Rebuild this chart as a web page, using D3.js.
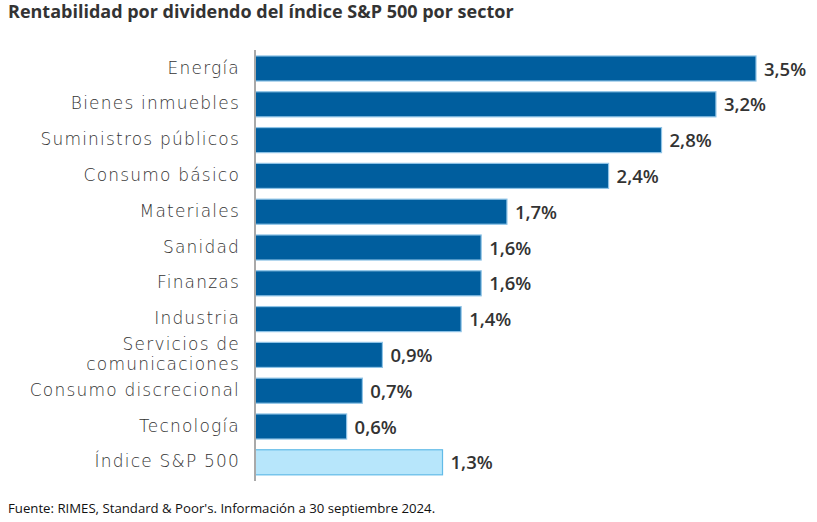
<!DOCTYPE html>
<html><head><meta charset="utf-8">
<script src="https://cdn.jsdelivr.net/npm/d3@7"></script>
<style>
body{margin:0;background:#fff;}
svg{display:block;}
</style></head><body>
<svg id="chart" width="817" height="522"></svg>
<script>
const categories = ["Energía","Bienes inmuebles","Suministros públicos","Consumo básico","Materiales","Sanidad","Finanzas","Industria","Servicios de\ncomunicaciones","Consumo discrecional","Tecnología","Índice S&P 500"];
const values = [3.5,3.22,2.84,2.47,1.76,1.58,1.58,1.44,0.89,0.75,0.64,1.31];
const valueLabels = ["3,5%","3,2%","2,8%","2,4%","1,7%","1,6%","1,6%","1,4%","0,9%","0,7%","0,6%","1,3%"];
const highlight = "Índice S&P 500";

const svg = d3.select("#chart");
const x = d3.scaleLinear().domain([0,3.5]).range([255,756]);
const y = d3.scaleBand().domain(categories).range([50.6,480.2]).paddingInner(0.3).paddingOuter(0.15);

svg.append("text").attr("x",8).attr("y",18)
  .attr("font-family","'Open Sans', sans-serif").attr("font-weight",700)
  .attr("font-size",18).attr("fill","#333")
  .text("Rentabilidad por dividendo del índice S&P 500 por sector");

svg.selectAll("rect.bar").data(categories).join("rect")
  .attr("class","bar")
  .attr("x",x(0)).attr("y",d=>y(d))
  .attr("width",(d,i)=>x(values[i])-x(0))
  .attr("height",y.bandwidth())
  .attr("fill",d=>d===highlight?"#b7e6fb":"#005e9e")
  .attr("stroke",d=>d===highlight?"#62bbe8":"#8ec3e6")
  .attr("stroke-width",1.2);

svg.append("line").attr("x1",x(0)).attr("x2",x(0)).attr("y1",50).attr("y2",481)
  .attr("stroke","#a9a9a9").attr("stroke-width",2);

const cat = svg.selectAll("text.cat").data(categories).join("text")
  .attr("class","cat")
  .attr("text-anchor","end")
  .attr("font-family","'DejaVu Sans', sans-serif").attr("font-weight",200)
  .attr("font-size",17).attr("letter-spacing",1.2).attr("fill","#333");
cat.each(function(d){
  const lines = d.split("\n");
  const cy = y(d)+y.bandwidth()/2;
  const lh = 20;
  lines.forEach((l,j)=>{
    d3.select(this).append("tspan").attr("x",240)
      .attr("y", cy + (j-(lines.length-1)/2)*lh + 5)
      .text(l);
  });
});

svg.selectAll("text.val").data(categories).join("text")
  .attr("class","val")
  .attr("x",(d,i)=>x(values[i])+8)
  .attr("y",d=>y(d)+y.bandwidth()/2+7)
  .attr("font-family","'Open Sans', sans-serif").attr("font-weight",600)
  .attr("font-size",18.5).attr("fill","#333")
  .text((d,i)=>valueLabels[i]);

svg.append("text").attr("x",8).attr("y",513)
  .attr("font-family","'Open Sans', sans-serif")
  .attr("font-size",13.2).attr("fill","#111")
  .text("Fuente: RIMES, Standard & Poor's. Información a 30 septiembre 2024.");
</script>
</body></html>
